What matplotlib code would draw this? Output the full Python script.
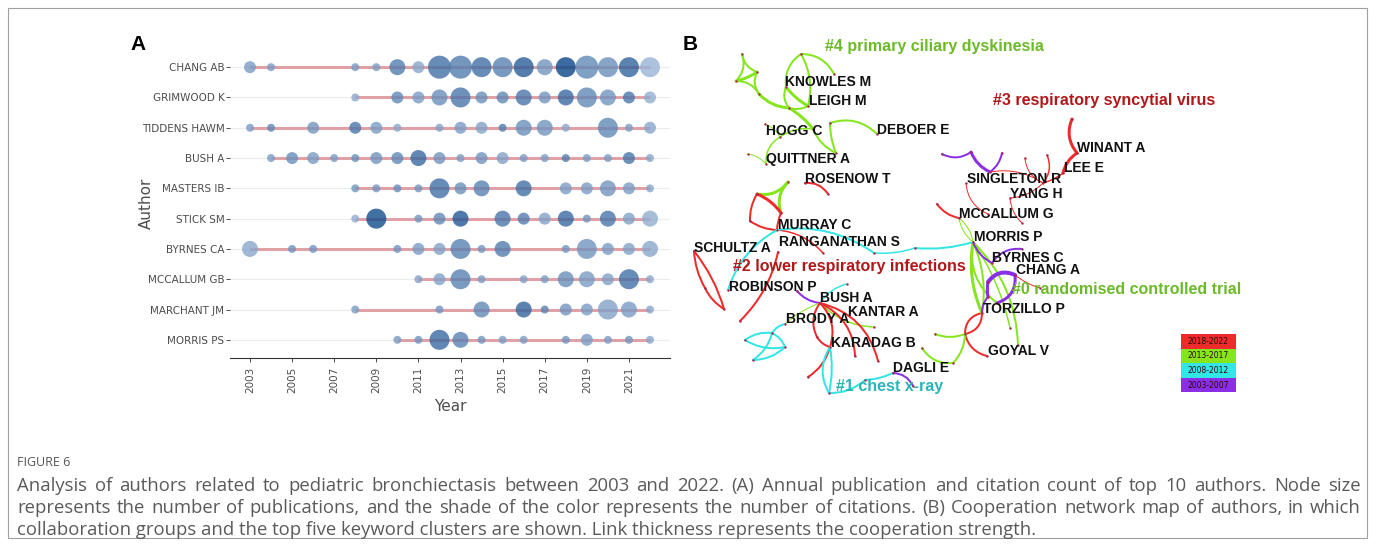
import matplotlib.pyplot as plt
import numpy as np
from matplotlib.colors import LinearSegmentedColormap
from matplotlib.patches import FancyArrowPatch, Rectangle

# ---------------- Panel A data ----------------
authors = ["CHANG AB", "GRIMWOOD K", "TIDDENS HAWM", "BUSH A", "MASTERS IB",
           "STICK SM", "BYRNES CA", "MCCALLUM GB", "MARCHANT JM", "MORRIS PS"]

years_by_author = [
    [2003, 2004, 2008, 2009, 2010, 2011, 2012, 2013, 2014, 2015, 2016, 2017, 2018, 2019, 2020, 2021, 2022],
    [2008, 2010, 2011, 2012, 2013, 2014, 2015, 2016, 2017, 2018, 2019, 2020, 2021, 2022],
    [2003, 2004, 2006, 2008, 2009, 2010, 2012, 2013, 2014, 2015, 2016, 2017, 2018, 2020, 2021, 2022],
    [2004, 2005, 2006, 2007, 2008, 2009, 2010, 2011, 2012, 2013, 2014, 2015, 2016, 2017, 2018, 2019, 2020, 2021, 2022],
    [2008, 2009, 2010, 2011, 2012, 2013, 2014, 2016, 2018, 2019, 2020, 2021, 2022],
    [2008, 2009, 2011, 2012, 2013, 2015, 2016, 2017, 2018, 2019, 2020, 2021, 2022],
    [2003, 2005, 2006, 2010, 2011, 2012, 2013, 2014, 2015, 2018, 2019, 2020, 2021, 2022],
    [2011, 2012, 2013, 2014, 2016, 2017, 2018, 2019, 2020, 2021, 2022],
    [2008, 2012, 2014, 2016, 2017, 2018, 2019, 2020, 2021, 2022],
    [2010, 2011, 2012, 2013, 2014, 2015, 2016, 2018, 2019, 2020, 2021, 2022],
]
# number of publications per year (node size)
papers_by_author = [
    [2, 1, 1, 1, 3, 2, 5, 5, 4, 4, 4, 3, 4, 5, 4, 4, 4],
    [1, 2, 2, 3, 4, 2, 2, 3, 2, 3, 4, 3, 2, 2],
    [1, 1, 2, 2, 2, 1, 1, 2, 2, 1, 3, 3, 1, 4, 1, 2],
    [1, 2, 2, 1, 1, 2, 2, 3, 2, 1, 2, 2, 1, 1, 1, 1, 1, 2, 1],
    [1, 1, 1, 1, 4, 2, 3, 3, 2, 2, 3, 2, 1],
    [1, 4, 1, 2, 3, 3, 2, 2, 3, 1, 3, 2, 3],
    [3, 1, 1, 1, 2, 2, 4, 1, 3, 1, 4, 2, 2, 3],
    [1, 2, 4, 1, 1, 1, 3, 3, 2, 4, 1],
    [1, 1, 3, 3, 1, 2, 2, 4, 3, 1],
    [1, 1, 4, 3, 1, 1, 1, 1, 2, 1, 1, 1],
]
# citations per year (colour shade)
cites_by_author = [
    [30, 30, 30, 30, 55, 20, 65, 55, 65, 50, 80, 35, 100, 45, 40, 75, 10],
    [20, 45, 30, 40, 60, 40, 45, 60, 35, 70, 45, 35, 60, 15],
    [30, 45, 35, 60, 30, 20, 25, 30, 25, 55, 40, 35, 20, 45, 30, 20],
    [30, 40, 30, 30, 40, 35, 45, 70, 35, 30, 35, 25, 30, 30, 55, 30, 30, 60, 20],
    [35, 35, 40, 35, 65, 40, 50, 65, 30, 30, 35, 30, 20],
    [15, 95, 35, 45, 85, 60, 55, 25, 70, 35, 60, 25, 15],
    [20, 35, 35, 35, 30, 25, 50, 35, 55, 35, 35, 30, 25, 20],
    [25, 25, 50, 30, 25, 30, 40, 30, 25, 65, 20],
    [30, 35, 45, 75, 50, 35, 30, 25, 30, 20],
    [30, 35, 70, 50, 35, 30, 30, 35, 30, 30, 35, 20],
]
year_ticks = list(range(2003, 2022, 2))

# ---------------- Panel B data (co-authorship network) ----------------
period_colors = {"2018-2022": "#ee2b2b", "2013-2017": "#86e61e",
                 "2008-2012": "#33e6e6", "2003-2007": "#8b2fe6"}
R, G, C, P = "2018-2022", "2013-2017", "2008-2012", "2003-2007"

node_xy = {
    "p1": (742, 54), "p2": (757, 72), "p3": (736, 81), "p4": (759, 94), "p5": (801, 54),
    "p6": (834, 74), "KNOWLES": (786, 87), "LEIGH": (808, 106), "p7": (789, 108),
    "p8": (813, 129), "p9": (830, 123), "DEBOER": (877, 134), "HOGG": (780, 137),
    "p10": (765, 124), "p11": (748, 154), "QUITTNER": (766, 164), "p12": (836, 153),
    "q1": (788, 182), "ROSENOW": (805, 183), "v1": (828, 194), "r1": (757, 194),
    "s1": (781, 213), "t1": (750, 221), "MURRAY": (777, 230), "w1": (823, 253),
    "ran1": (874, 253), "ran2": (915, 248), "MORRIS": (973, 242), "SCHULTZ": (694, 251),
    "sc2": (705, 288), "sc3": (724, 309), "rl1": (778, 252), "rl2": (740, 321),
    "ROBINSON": (728, 290), "rb": (797, 291), "BUSH": (820, 303), "bc": (847, 284),
    "KANTAR": (874, 327), "BRODY": (785, 324), "k1": (817, 337), "KARADAG": (830, 347),
    "k3": (855, 356), "k4": (878, 361), "k5": (808, 377), "c1": (772, 333), "c2": (745, 340),
    "c3": (785, 347), "c4": (753, 360), "c5": (829, 393), "c6": (865, 380),
    "DAGLI": (893, 373), "d2": (913, 386), "g1": (922, 348), "g2": (953, 363),
    "g3": (935, 334), "x1": (965, 334), "TORZILLO": (982, 313), "GOYAL": (987, 356),
    "m1": (1010, 328), "m2": (1018, 345), "BYRNES": (992, 263), "b2": (1022, 249),
    "ch1": (988, 282), "CHANG": (1015, 275), "ch2": (988, 297), "t2": (997, 303),
    "r0": (1040, 288), "MCCALLUM": (959, 218), "mc1": (937, 204), "u1": (942, 154),
    "u2": (971, 152), "SINGLETON": (990, 172), "u3": (1002, 153), "sg1": (966, 183),
    "sg2": (988, 214), "y1": (1025, 158), "y2": (1047, 155), "y3": (1043, 183),
    "LEE": (1063, 173), "YANG": (1010, 198), "y4": (1022, 223), "w0": (1072, 119),
    "WINANT": (1077, 153),
}

# (from, to, time slice, link width px, curvature)
edges = [
    ("p1", "p2", G, 2, 0.3), ("p1", "p3", G, 2, -0.3), ("p3", "p2", G, 3, 0.1),
    ("p2", "p4", G, 2, 0.3), ("p3", "p4", G, 2, -0.3), ("p4", "p7", G, 3, 0.2),
    ("p5", "KNOWLES", G, 2, 0.3), ("p5", "p6", G, 2, -0.3), ("p5", "LEIGH", G, 2, -0.2),
    ("KNOWLES", "LEIGH", G, 3, 0.1), ("KNOWLES", "p7", G, 2, 0.3), ("p7", "LEIGH", G, 2, 0.2),
    ("p7", "p8", G, 3, -0.1), ("p9", "DEBOER", G, 2, -0.3), ("p9", "p12", G, 2, 0.1),
    ("p8", "p12", G, 2, 0.2), ("HOGG", "p8", G, 1.5, -0.2), ("HOGG", "p10", G, 1, 0.2),
    ("HOGG", "QUITTNER", G, 1.5, 0.3), ("QUITTNER", "p11", G, 1, 0.2),
    ("q1", "r1", G, 3, -0.3), ("q1", "s1", G, 3, 0.3), ("ROSENOW", "v1", R, 2, -0.3),
    ("r1", "s1", R, 3, -0.15), ("r1", "t1", R, 2, 0.15), ("t1", "MURRAY", R, 2, 0.15),
    ("s1", "MURRAY", R, 2, 0.1), ("MURRAY", "w1", R, 1.5, -0.2),
    ("MURRAY", "ran1", C, 2, -0.2), ("ran1", "ran2", C, 1.5, 0.1), ("ran2", "MORRIS", C, 2, 0.1),
    ("MURRAY", "ROBINSON", C, 2, 0.2), ("SCHULTZ", "sc2", R, 2, 0.12), ("sc2", "sc3", R, 2, 0.15),
    ("SCHULTZ", "sc3", R, 2, -0.1), ("rl1", "rl2", R, 2, -0.15),
    ("rb", "BUSH", P, 2, 0.2), ("BUSH", "bc", C, 1.5, -0.2), ("BUSH", "KANTAR", G, 1.5, 0.2),
    ("BUSH", "BRODY", G, 1, 0.1), ("BUSH", "k1", R, 2, 0.3), ("BUSH", "KARADAG", R, 2, -0.3),
    ("BUSH", "k3", R, 2, -0.3), ("BUSH", "k4", R, 2, -0.3), ("k1", "KARADAG", R, 2, 0.2),
    ("KARADAG", "k5", R, 2, -0.2), ("BRODY", "c1", C, 2, 0.2), ("c1", "c2", C, 2, 0.2),
    ("c1", "c4", C, 2, -0.2), ("c2", "c3", C, 2, 0.2), ("c4", "c3", C, 2, 0.2),
    ("c1", "c3", C, 2, -0.2), ("KARADAG", "c5", C, 2, 0.3), ("KARADAG", "c5", C, 2, -0.1),
    ("c5", "c6", C, 2, 0.2), ("c6", "DAGLI", C, 2, 0.1), ("DAGLI", "d2", P, 2, -0.3),
    ("g1", "g2", G, 2, 0.3), ("g3", "x1", G, 2, 0.2), ("x1", "TORZILLO", R, 2, 0.4),
    ("x1", "TORZILLO", R, 2, -0.4), ("x1", "GOYAL", R, 2, 0.3), ("x1", "g2", G, 2, -0.2),
    ("MORRIS", "TORZILLO", G, 3, 0.15), ("MORRIS", "TORZILLO", G, 2, -0.15),
    ("MORRIS", "t2", G, 2, 0.3), ("MORRIS", "m1", G, 1.5, -0.1), ("MORRIS", "m2", G, 2, -0.2),
    ("MORRIS", "BYRNES", P, 2, 0.2), ("BYRNES", "b2", P, 2, -0.3), ("ch1", "CHANG", P, 4, -0.4),
    ("ch1", "ch2", P, 3, 0.1), ("CHANG", "t2", P, 3, -0.4), ("ch2", "TORZILLO", P, 2, 0.2),
    ("CHANG", "r0", R, 1, 0.1), ("MCCALLUM", "MORRIS", G, 1, 0.2), ("MCCALLUM", "MORRIS", G, 1, -0.2),
    ("mc1", "MCCALLUM", R, 2, 0.2), ("u1", "u2", P, 2, 0.3), ("u2", "SINGLETON", P, 3, 0.2),
    ("u3", "SINGLETON", P, 2, -0.2), ("sg1", "sg2", R, 1, 0.3), ("y1", "y3", R, 1, 0.3),
    ("y2", "y3", R, 1.5, -0.3), ("y3", "LEE", R, 1.5, 0.1), ("SINGLETON", "y3", R, 1, -0.2),
    ("YANG", "y4", R, 1, 0.2), ("YANG", "y3", R, 1, 0.2), ("w0", "WINANT", R, 3, 0.3),
    ("WINANT", "LEE", R, 3, 0.2),
]

author_labels = [
    ("KNOWLES M", 785, 82), ("LEIGH M", 809, 101), ("HOGG C", 766, 131), ("DEBOER E", 877, 130),
    ("QUITTNER A", 766, 159), ("ROSENOW T", 805, 179), ("WINANT A", 1077, 148), ("LEE E", 1064, 168),
    ("SINGLETON R", 967, 179), ("YANG H", 1010, 194), ("MCCALLUM G", 959, 214), ("MURRAY C", 778, 225),
    ("RANGANATHAN S", 779, 242), ("SCHULTZ A", 694, 248), ("MORRIS P", 974, 237), ("BYRNES C", 992, 258),
    ("CHANG A", 1016, 270), ("ROBINSON P", 729, 287), ("BUSH A", 820, 298), ("TORZILLO P", 983, 309),
    ("KANTAR A", 848, 312), ("BRODY A", 786, 319), ("KARADAG B", 831, 343), ("GOYAL V", 988, 351),
    ("DAGLI E", 893, 368),
]
cluster_labels = [
    ("#4 primary ciliary dyskinesia", 825, 47, "#6cba2a"),
    ("#3 respiratory syncytial virus", 993, 100, "#b0191c"),
    ("#2 lower respiratory infections", 733, 266, "#b0191c"),
    ("#0 randomised controlled trial", 1012, 289, "#6cba2a"),
    ("#1 chest x-ray", 836, 387, "#2cb4b4"),
]

caption_lines = [
    "Analysis of authors related to pediatric bronchiectasis between 2003 and 2022. (A) Annual publication and citation count of top 10 authors. Node size",
    "represents the number of publications, and the shade of the color represents the number of citations. (B) Cooperation network map of authors, in which",
    "collaboration groups and the top five keyword clusters are shown. Link thickness represents the cooperation strength.",
]

# ---------------- figure ----------------
W, H = 1375, 547
fig = plt.figure(figsize=(W / 100, H / 100), dpi=100)

# Panel A
ax = fig.add_axes([230 / W, 1 - 358 / H, 440 / W, 309 / H])
cmap = LinearSegmentedColormap.from_list("cites", ["#a9bfdc", "#0a4688"])
size_px = {1: 8, 2: 12, 3: 16, 4: 20, 5: 23}
for i, (yrs, pubs, tc) in enumerate(zip(years_by_author, papers_by_author, cites_by_author)):
    ax.axhline(i, color="#ebebeb", lw=0.8, zorder=0)
    ax.plot([min(yrs), max(yrs)], [i, i], color="#dfa0a6", lw=2.2, zorder=1, solid_capstyle="butt")
    sizes = [(size_px[n] * 0.72) ** 2 for n in pubs]
    ax.scatter(yrs, [i] * len(yrs), s=sizes, c=tc, cmap=cmap, vmin=0, vmax=100,
               alpha=0.8, edgecolors="none", zorder=2)
ax.set_xlim(2002.05, 2022.95)
ax.set_ylim(9.6, -0.6)
ax.set_yticks(range(len(authors)))
ax.set_yticklabels(authors)
ax.set_xticks(year_ticks)
ax.set_xticklabels([str(y) for y in year_ticks], rotation=90)
for s in ["top", "right", "left"]:
    ax.spines[s].set_visible(False)
ax.spines["bottom"].set_color("#333333")
ax.spines["bottom"].set_linewidth(0.8)
ax.tick_params(axis="both", colors="#333333", labelcolor="#4d4d4d", labelsize=7.5, length=3, width=0.6)
ax.tick_params(axis="y", pad=1)
ax.set_xlabel("Year", fontsize=11, color="#4d4d4d", labelpad=4)
ax.set_ylabel("Author", fontsize=11, color="#4d4d4d")
ax.yaxis.set_label_coords(-0.172, 0.5)

# Overlay in pixel coordinates for panel B, labels, frame and caption
ov = fig.add_axes([0, 0, 1, 1])
ov.set_xlim(0, W)
ov.set_ylim(H, 0)
ov.axis("off")
ov.patch.set_alpha(0)

ov.add_patch(Rectangle((8, 8), W - 16, H - 17, fill=False, edgecolor="#a0a0a0", lw=0.8))
ov.text(130, 45, "A", fontsize=15, fontweight="bold", family="Liberation Sans", va="center")
ov.text(683, 45, "B", fontsize=15, fontweight="bold", family="Liberation Sans", va="center")

for a, b, per, w, rad in edges:
    arc = FancyArrowPatch(node_xy[a], node_xy[b], arrowstyle="-", connectionstyle=f"arc3,rad={rad}",
                          color=period_colors[per], lw=w * 0.72, shrinkA=0, shrinkB=0, zorder=2)
    ov.add_patch(arc)
nx = [p[0] for p in node_xy.values()]
ny = [p[1] for p in node_xy.values()]
ov.scatter(nx, ny, s=3, color="#a8294f", zorder=3, linewidths=0)

for txt, x, y in author_labels:
    ov.text(x, y, txt, fontsize=10, fontweight="bold", family="Liberation Sans",
            color="#111111", va="center", ha="left", zorder=4)
for txt, x, y, col in cluster_labels:
    ov.text(x, y, txt, fontsize=11.5, fontweight="bold", family="Liberation Sans",
            color=col, va="center", ha="left", zorder=4)

# time-slice legend
for k, per in enumerate(["2018-2022", "2013-2017", "2008-2012", "2003-2007"]):
    y0 = 334 + k * 14.5
    ov.add_patch(Rectangle((1181, y0), 55, 14.5, color=period_colors[per], lw=0))
    ov.text(1208.5, y0 + 7.5, per, fontsize=5.5, color="#2a0a0a", ha="center", va="center")

# caption
ov.text(17, 462, "FIGURE 6", fontsize=9, color="#555555", family="Open Sans", va="center")
renderer = fig.canvas.get_renderer()
cap_kw = dict(fontsize=13.3, color="#5a5a5a", family="Open Sans", va="center")
x_left, x_right = 17, 1361
for li, line in enumerate(caption_lines):
    y = 486 + li * 22
    if li == len(caption_lines) - 1:
        ov.text(x_left, y, line, **cap_kw)
        continue
    words = line.split(" ")
    arts = [ov.text(0, y, wd, **cap_kw) for wd in words]
    widths = [t.get_window_extent(renderer).width for t in arts]
    gap = (x_right - x_left - sum(widths)) / (len(words) - 1)
    x = x_left
    for t, wd in zip(arts, widths):
        t.set_x(x)
        x += wd + gap

fig.savefig("out.png", dpi=100)
